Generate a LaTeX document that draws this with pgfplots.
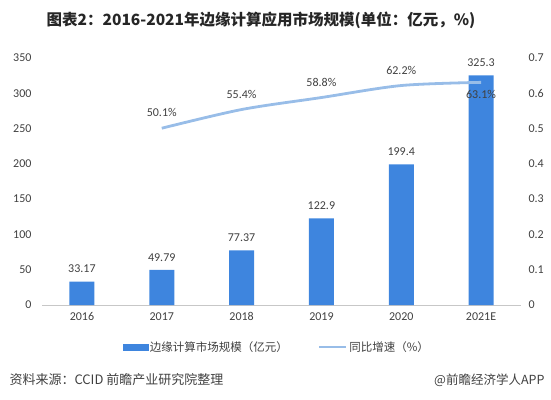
\documentclass[border=0pt]{standalone}
\usepackage{fontspec}
\setmainfont{Carlito}
\newfontfamily\cjk{Noto Sans CJK SC}
\usepackage{pgfplots}
\usepackage{pgfplotstable}
\pgfplotsset{compat=1.18}
\definecolor{barblue}{HTML}{3E85DE}
\definecolor{lineblue}{HTML}{98BDE8}
\definecolor{txt}{HTML}{404040}

\pgfplotstableread{
x v lab
0 33.17 33.17
1 49.79 49.79
2 77.37 77.37
3 122.9 122.9
4 199.4 199.4
5 325.3 325.3
}\bars

\pgfplotstableread{
x y lab
1 0.501 50.1
2 0.554 55.4
3 0.588 58.8
4 0.622 62.2
5 0.631 63.1
}\growth

\begin{document}
\begin{tikzpicture}[x=1pt,y=1pt]
\path[use as bounding box] (0,0) rectangle (551,399);
\node[font=\cjk\bfseries\fontsize{15.5}{18}\selectfont, text=black!85] at (261,379) {图表2：2016-2021年边缘计算应用市场规模(单位：亿元，\%)};

\begin{axis}[
  at={(42pt,94pt)}, anchor=south west, scale only axis,
  width=479pt, height=247pt,
  xmin=-0.5, xmax=5.5, ymin=0, ymax=350,
  xtick={0,1,2,3,4,5}, xticklabels={2016,2017,2018,2019,2020,2021E},
  ytick={0,50,100,150,200,250,300,350},
  axis x line*=bottom, axis y line*=left,
  y axis line style={draw=none},
  x axis line style={draw=black!22, line width=0.8pt},
  major tick length=0pt, tick style={draw=none},
  /pgf/number format/assume math mode=true,
  tick label style={font=\fontsize{12}{14}\selectfont, text=txt},
  yticklabel style={xshift=-7pt},
  xticklabel style={yshift=-4pt},
  clip=false,
]
\addplot[ybar, bar width=25pt, fill=barblue, draw=none,
  nodes near coords, point meta=explicit symbolic,
  every node near coord/.append style={font=\fontsize{12}{14}\selectfont, text=txt, yshift=5pt}]
  table[x=x, y=v, meta=lab]{\bars};
\end{axis}

\begin{axis}[
  at={(42pt,94pt)}, anchor=south west, scale only axis,
  width=479pt, height=247pt,
  xmin=-0.5, xmax=5.5, ymin=0, ymax=0.7,
  ytick={0,0.1,0.2,0.3,0.4,0.5,0.6,0.7},
  axis x line=none, axis y line*=right,
  y axis line style={draw=none},
  major tick length=0pt, tick style={draw=none},
  /pgf/number format/assume math mode=true,
  yticklabel style={font=\fontsize{12}{14}\selectfont, text=txt, xshift=4pt,
    /pgf/number format/.cd, fixed, precision=1},
  clip=false,
  legend style={at={(0.49,-0.17)}, anchor=center, draw=none, fill=none,
    legend columns=2, font=\cjk\fontsize{11.5}{13}\selectfont, text=txt,
    /tikz/every even column/.append style={column sep=28pt},
    legend cell align=left},
]
\addlegendimage{legend image code/.code={\fill[barblue] (0pt,-3.2pt) rectangle (25pt,3.2pt);}}
\addlegendentry{边缘计算市场规模（亿元）}
\addlegendimage{legend image code/.code={\draw[lineblue, line width=2.4pt] (0pt,0pt) -- (27pt,0pt);}}
\addlegendentry{同比增速（\%）}
\addplot[lineblue, line width=2.8pt, smooth, mark=none, forget plot]
  table[x=x, y=y]{\growth};
\addplot[draw=none, mark=none, forget plot, restrict x to domain=1:4,
  nodes near coords={\pgfplotspointmeta\%}, point meta=explicit symbolic,
  every node near coord/.append style={font=\fontsize{12}{14}\selectfont, text=txt, anchor=south, inner sep=0pt, yshift=11pt}]
  table[x=x, y=y, meta=lab]{\growth};
\addplot[draw=none, mark=none, forget plot, restrict x to domain=5:5,
  nodes near coords={\pgfplotspointmeta\%}, point meta=explicit symbolic,
  every node near coord/.append style={font=\fontsize{12}{14}\selectfont, text=txt, anchor=north, inner sep=0pt, yshift=-8pt}]
  table[x=x, y=y, meta=lab]{\growth};
\end{axis}

\node[anchor=west, font=\cjk\fontsize{13}{15}\selectfont, text=txt] at (6,19) {资料来源：CCID 前瞻产业研究院整理};
\node[anchor=east, font=\cjk\fontsize{12.5}{14}\selectfont, text=txt] at (548,19) {@前瞻经济学人APP};
\end{tikzpicture}
\end{document}
